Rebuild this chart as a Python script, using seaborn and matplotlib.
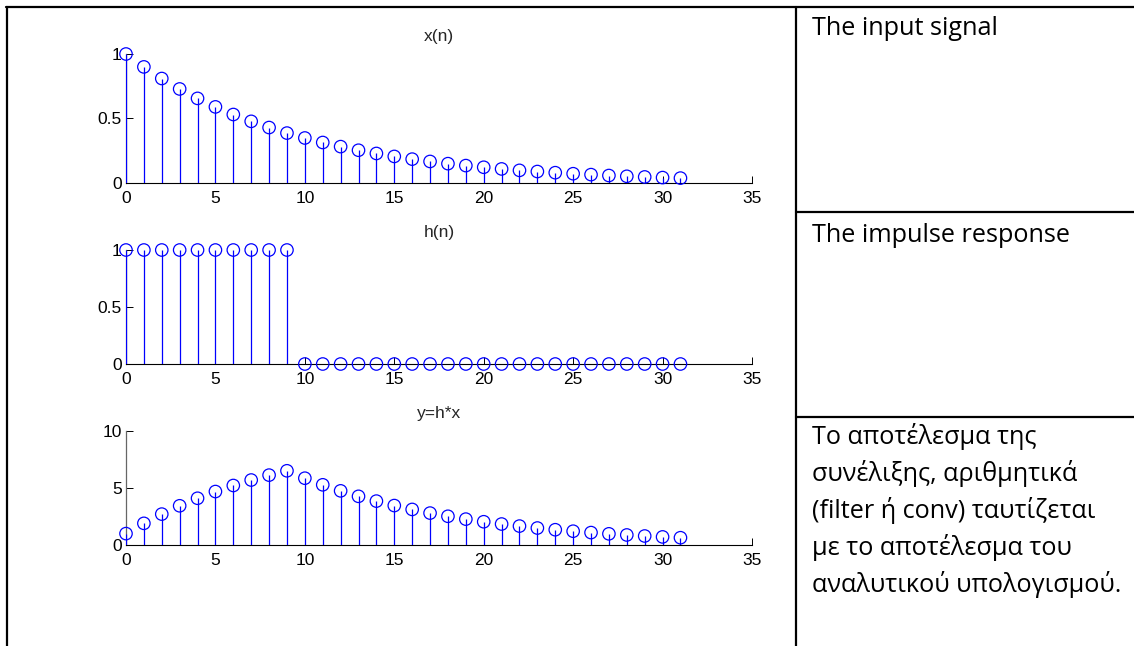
import numpy as np
import matplotlib
matplotlib.use("Agg")
import matplotlib.pyplot as plt
from matplotlib.lines import Line2D
import seaborn as sns

# ---------------- data ----------------
n = list(range(32))
x_vals = [1.0, 0.9, 0.81, 0.729, 0.656, 0.590, 0.531, 0.478, 0.430, 0.387,
          0.349, 0.314, 0.282, 0.254, 0.229, 0.206, 0.185, 0.167, 0.150, 0.135,
          0.122, 0.109, 0.098, 0.089, 0.080, 0.072, 0.065, 0.058, 0.052, 0.047,
          0.042, 0.038]
h_vals = [1, 1, 1, 1, 1, 1, 1, 1, 1, 1,
          0, 0, 0, 0, 0, 0, 0, 0, 0, 0,
          0, 0, 0, 0, 0, 0, 0, 0, 0, 0,
          0, 0]
y_vals = [1.0, 1.9, 2.71, 3.44, 4.10, 4.69, 5.22, 5.70, 6.13, 6.51,
          5.86, 5.28, 4.75, 4.27, 3.85, 3.46, 3.12, 2.80, 2.52, 2.27,
          2.04, 1.84, 1.66, 1.49, 1.34, 1.21, 1.09, 0.98, 0.88, 0.79,
          0.71, 0.64]
titles = ["x(n)", "h(n)", "y=h*x"]
xticks = [0, 5, 10, 15, 20, 25, 30, 35]
yticks_list = [[0, 0.5, 1], [0, 0.5, 1], [0, 5, 10]]
ytick_labels = [["0", "0.5", "1"], ["0", "0.5", "1"], ["0", "5", "10"]]
ylims = [(0, 1), (0, 1), (0, 10)]
right_texts = [["The input signal"], ["The impulse response"],
               ["Το αποτέλεσμα της", "συνέλιξης, αριθμητικά",
                "(filter ή conv) ταυτίζεται", "με το αποτέλεσμα του",
                "αναλυτικού υπολογισμού."]]

# ---------------- style ----------------
sns.set_style("ticks")
plt.rcParams['font.family'] = ['Liberation Sans', 'DejaVu Sans']

W, H = 1134, 646
fig = plt.figure(figsize=(W / 100, H / 100), dpi=100)

def fx(px):
    return px / W

def fy(py):
    return 1 - py / H

# axes rectangles in pixels: (left, right, y_bottom, y_top)
ax_px = [(126, 752, 183, 54), (126, 752, 364, 250), (126, 752, 545, 431)]
series = [x_vals, h_vals, y_vals]
blue = (0, 0, 1)
lab_fs = 12.5

for i, (l, r, b, t) in enumerate(ax_px):
    ax = fig.add_axes([fx(l), fy(b), (r - l) / W, (b - t) / H])
    vals = series[i]
    ax.vlines(n, 0, vals, color=blue, lw=0.9, zorder=3)
    sns.scatterplot(x=n, y=vals, ax=ax, marker='o', s=80,
                    facecolor='none', edgecolor=blue, linewidth=0.9,
                    clip_on=False, zorder=4, legend=False)
    for coll in ax.collections[1:]:
        coll.set_facecolor('none')
        coll.set_edgecolor(blue)
        coll.set_clip_on(False)
    ax.set_xlim(0, 35)
    ax.set_ylim(*ylims[i])
    ax.set_xticks(xticks)
    ax.set_xticklabels([str(v) for v in xticks])
    ax.set_yticks(yticks_list[i])
    ax.set_yticklabels(ytick_labels[i])
    sns.despine(ax=ax, top=True, right=True)
    ax.spines['bottom'].set_color('black')
    ax.spines['bottom'].set_linewidth(0.8)
    ax.spines['left'].set_color('#666666')
    ax.spines['left'].set_linewidth(0.9)
    ax.tick_params(axis='both', direction='in', length=4.8, width=0.7,
                   colors='black', labelsize=lab_fs, bottom=True, left=True)
    ax.tick_params(axis='x', pad=6)
    ax.tick_params(axis='y', pad=3)
    ax.set_xlabel("")
    ax.set_ylabel("")
    ax.set_title(titles[i], fontsize=lab_fs, pad=9)
    ax.patch.set_alpha(0)

# ---------------- table borders ----------------
lw_b = 1.6
borders = [
    ((6, 1134), (7, 7)),      # top
    ((7, 7), (7, 646)),       # left
    ((796, 796), (7, 646)),   # vertical divider
    ((796, 1134), (212, 212)),
    ((796, 1134), (417, 417)),
]
for (xs, ys) in borders:
    fig.add_artist(Line2D([fx(xs[0]), fx(xs[1])], [fy(ys[0]), fy(ys[1])],
                          transform=fig.transFigure, color='black', lw=lw_b))

# ---------------- right column text ----------------
text_fam = ['Open Sans', 'DejaVu Sans']
baselines = [[35], [242], [444, 481, 518, 555, 592]]
for lines, bls in zip(right_texts, baselines):
    for line, bl in zip(lines, bls):
        fig.text(fx(812), fy(bl), line, family=text_fam, fontsize=18.2,
                 ha='left', va='baseline', color='black')

fig.savefig("out.png", dpi=100)
